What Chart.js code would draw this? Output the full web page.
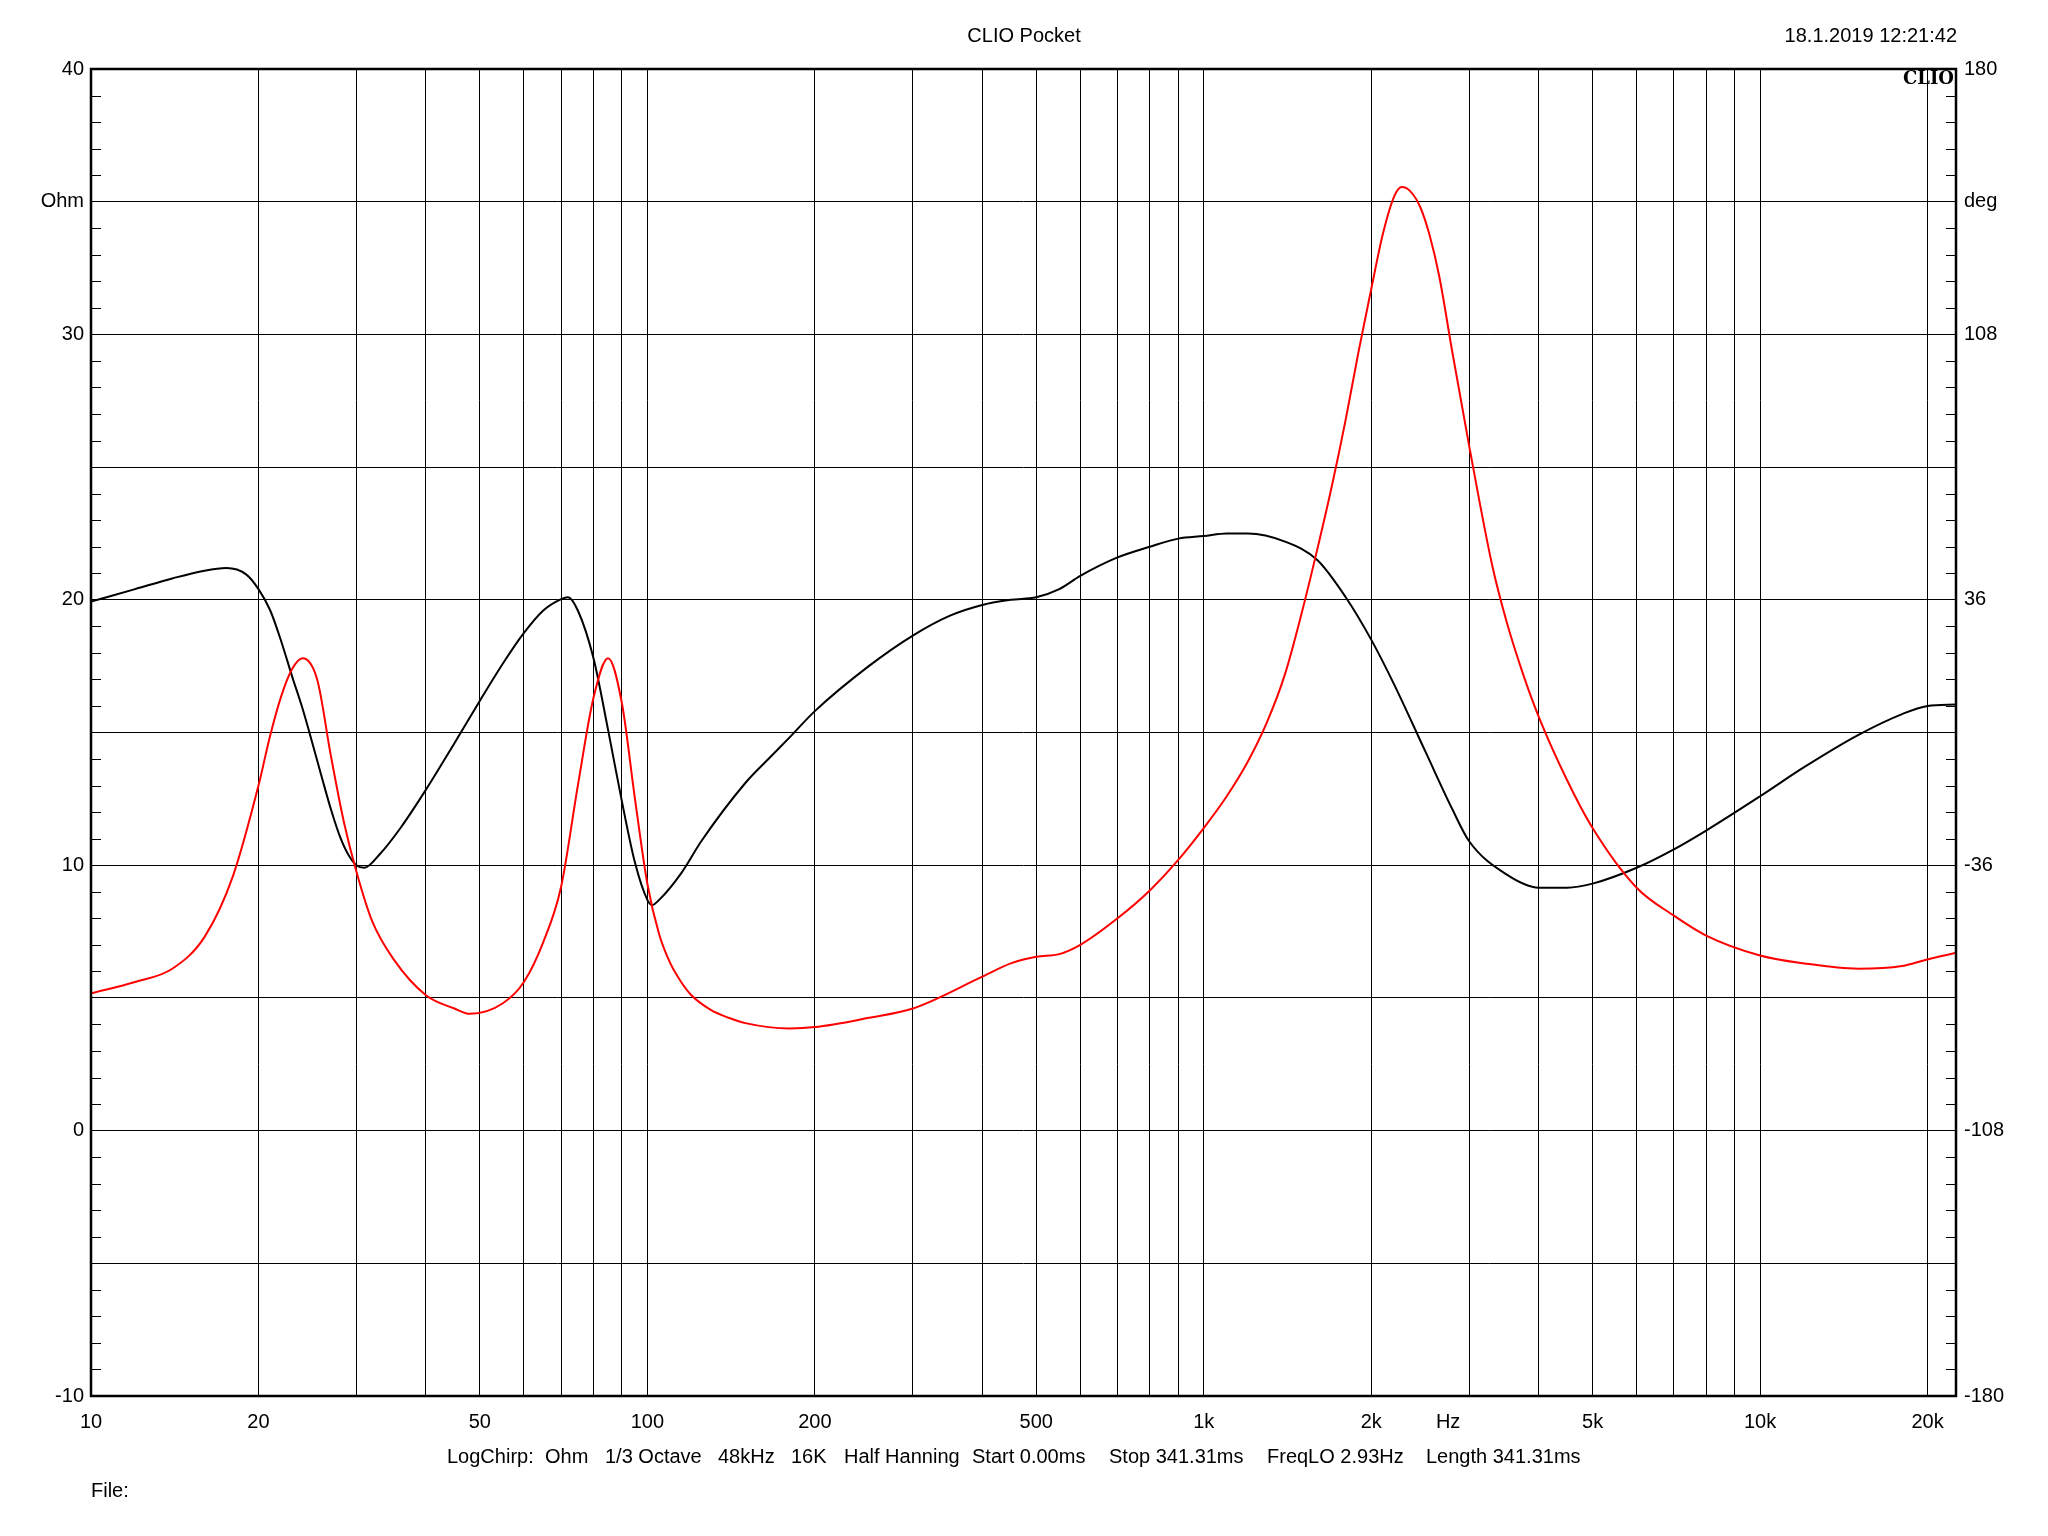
<!DOCTYPE html>
<html>
  <head>
    <meta charset="utf-8">
    <style type="text/css">
      body { margin: 0; background: #ffffff; }
      .chart-container { width: 2048px; height: 1536px; }
    </style>
  </head>
  <body>
    <script src="https://cdn.jsdelivr.net/npm/chart.js@4.4.1/dist/chart.umd.min.js"></script>

    <div class="chart-container">
      <canvas id="myChart" width="2048" height="1536"></canvas>
    </div>

    <script>
      /* datas : impedance (Ohm, left axis) */
      const freqZ = [10, 12, 14, 16, 18, 20, 21, 22, 23, 24, 25.5, 27, 28.5, 30, 32, 35, 40, 45, 48, 55, 60, 65, 70, 75, 80, 85, 90, 95, 100, 105, 110, 115, 120, 130, 140, 150, 180, 200, 250, 300, 400, 450, 500, 550, 600, 700, 800, 900, 1000, 1100, 1200, 1300, 1400, 1500, 1600, 1700, 1800, 1900, 2000, 2100, 2200, 2270, 2350, 2450, 2550, 2650, 2800, 3000, 3300, 3500, 3750, 4000, 4500, 5000, 6000, 7000, 8000, 10000, 12000, 15000, 18000, 20000, 22500];
      const impedance = [5.17, 5.6, 6.1, 7.3, 9.6, 13.0, 14.9, 16.4, 17.4, 17.8, 17.0, 14.1, 11.6, 9.75, 7.9, 6.45, 5.1, 4.6, 4.4, 4.8, 5.6, 7.1, 9.2, 13.0, 16.3, 17.8, 16.1, 12.5, 9.3, 7.4, 6.3, 5.6, 5.1, 4.55, 4.25, 4.05, 3.85, 3.9, 4.25, 4.6, 5.8, 6.3, 6.55, 6.65, 7.0, 8.0, 9.05, 10.2, 11.4, 12.6, 13.9, 15.4, 17.2, 19.5, 21.9, 24.3, 26.8, 29.4, 31.7, 33.8, 35.2, 35.55, 35.4, 34.8, 33.7, 32.2, 29.3, 25.8, 21.3, 19.2, 17.2, 15.6, 13.2, 11.4, 9.15, 8.1, 7.35, 6.6, 6.3, 6.1, 6.2, 6.45, 6.7];

      /* datas : phase (deg, right axis) */
      const freqPh = [10, 12, 14, 16, 17.5, 19, 20, 21, 22, 23, 24, 25, 26, 27, 28, 29, 30, 31, 33, 36, 40, 45, 50, 55, 60, 65, 70, 72, 75, 80, 85, 90, 95, 100, 102, 105, 115, 125, 150, 165, 180, 200, 250, 300, 350, 400, 450, 500, 550, 600, 700, 800, 900, 1000, 1100, 1200, 1400, 1600, 1800, 2000, 2200, 2500, 2800, 3000, 3500, 4000, 4500, 5000, 6000, 7000, 8000, 10000, 12000, 15000, 18000, 20000, 22500];
      const phase = [35.5, 38.9, 41.8, 43.9, 44.6, 42.9, 38.9, 33.1, 24.5, 15.1, 6.5, -2.9, -12.2, -20.9, -28.1, -33.1, -36, -36.7, -33.1, -25.9, -15.5, -2.9, 8.6, 18.7, 27, 33.1, 36.2, 36.7, 33.1, 20.2, 0.7, -18.7, -35.3, -45.4, -46.8, -45.4, -38.2, -29.5, -13.7, -7.2, -1.4, 5.8, 18, 26.3, 31.7, 34.6, 36, 36.7, 38.9, 42.5, 47.5, 50.4, 52.6, 53.3, 54, 54, 51.8, 46.8, 36.7, 25.2, 13, -5, -20.9, -29.5, -38.5, -42.1, -42.1, -41, -36.7, -31.7, -26.6, -17.3, -9.4, -0.7, 5, 7.2, 7.6];

      /* axis ticks */
      const freqGrid = [20, 30, 40, 50, 60, 70, 80, 90, 100, 200, 300, 400, 500, 600, 700, 800, 900, 1000, 2000, 3000, 4000, 5000, 6000, 7000, 8000, 9000, 10000, 20000];
      const freqLabels = { 10: '10', 20: '20', 50: '50', 100: '100', 200: '200', 500: '500', 1000: '1k', 2000: '2k', 5000: '5k', 10000: '10k', 20000: '20k' };
      const ohmLabels = { 40: '40', 35: 'Ohm', 30: '30', 20: '20', 10: '10', 0: '0', '-10': '-10' };
      const degTicks = [-180, -108, -36, 36, 108, 144, 180];
      const degLabels = { 180: '180', 144: 'deg', 108: '108', 36: '36', '-36': '-36', '-108': '-108', '-180': '-180' };
      const infoText = ['LogChirp:', 'Ohm', '1/3 Octave', '48kHz', '16K', 'Half Hanning', 'Start 0.00ms', 'Stop 341.31ms', 'FreqLO 2.93Hz', 'Length 341.31ms'];
      const infoX = [447, 545, 605, 718, 791, 844, 972, 1109, 1267, 1426];

      const FAMILY = '"Liberation Sans", Arial, sans-serif';
      const FONT = '20px ' + FAMILY;

      // texts, frame and the small inner ticks, drawn over the chart
      const decoPlugin = {
        id: 'deco',
        afterDraw(chart) {
          const ctx = chart.ctx;
          const a = chart.chartArea;
          const y = chart.scales.y;
          ctx.save();
          ctx.strokeStyle = '#000';
          ctx.lineWidth = 1;
          for (let v = -9; v < 40; v++) {
            if (v % 5 === 0) continue;
            const py = Math.round(y.getPixelForValue(v)) + 0.5;
            ctx.beginPath();
            ctx.moveTo(a.left, py); ctx.lineTo(a.left + 10, py);
            ctx.moveTo(a.right - 10, py); ctx.lineTo(a.right, py);
            ctx.stroke();
          }
          ctx.lineWidth = 2.5;
          ctx.strokeRect(a.left, a.top, a.right - a.left, a.bottom - a.top);

          ctx.fillStyle = '#000';
          ctx.font = FONT;
          ctx.textBaseline = 'middle';
          ctx.textAlign = 'center';
          ctx.fillText('CLIO Pocket', 1024, 36);
          ctx.fillText('Hz', chart.scales.x.getPixelForValue(2750), 1422);
          ctx.textAlign = 'right';
          ctx.fillText('18.1.2019 12:21:42', 1957, 36);
          ctx.textAlign = 'left';
          ctx.fillText('File:', 91, 1491);
          infoText.forEach((t, i) => ctx.fillText(t, infoX[i], 1457));

          ctx.font = 'bold 18px "DejaVu Serif", serif';
          ctx.textAlign = 'right';
          ctx.fillText('CLIO', 1954, 79);
          ctx.restore();
        }
      };

      const myChart = new Chart('myChart', {
        type: 'scatter',
        data: {
          datasets: [{
            label: 'Impedance',
            data: freqZ.map((f, i) => ({ x: f, y: impedance[i] })),
            yAxisID: 'y',
            showLine: true,
            borderColor: '#ff0000',
            borderWidth: 2,
            pointRadius: 0,
            cubicInterpolationMode: 'monotone'
          },
          {
            label: 'Phase',
            data: freqPh.map((f, i) => ({ x: f, y: phase[i] })),
            yAxisID: 'y2',
            showLine: true,
            borderColor: '#000000',
            borderWidth: 2,
            pointRadius: 0,
            cubicInterpolationMode: 'monotone'
          }]
        },
        options: {
          responsive: false,
          animation: false,
          devicePixelRatio: 1,
          layout: { padding: { top: 69, left: 0, right: 0, bottom: 0 } },
          plugins: {
            legend: { display: false },
            tooltip: { enabled: false }
          },
          scales: {
            x: {
              type: 'logarithmic',
              min: 10,
              max: 22500,
              afterBuildTicks: (scale) => {
                scale.ticks = [10].concat(freqGrid).map(v => ({ value: v }));
              },
              afterFit: (scale) => { scale.height = 140; },
              grid: {
                color: (c) => c.tick && c.tick.value === 10 ? 'rgba(0,0,0,0)' : '#000',
                lineWidth: 1,
                drawTicks: false
              },
              border: { display: false },
              ticks: {
                autoSkip: false,
                maxRotation: 0,
                padding: 14,
                color: '#000',
                font: { family: FAMILY, size: 20 },
                callback: (value) => freqLabels[value] || ''
              }
            },
            y: {
              position: 'left',
              min: -10,
              max: 40,
              afterBuildTicks: (scale) => {
                const t = [];
                for (let v = -10; v <= 40; v += 5) t.push({ value: v });
                scale.ticks = t;
              },
              afterFit: (scale) => { scale.width = 91; },
              grid: {
                color: '#000',
                lineWidth: 1,
                drawTicks: false
              },
              border: { display: false },
              ticks: {
                autoSkip: false,
                padding: 7,
                color: '#000',
                font: { family: FAMILY, size: 20 },
                callback: (value) => ohmLabels[value] || ''
              }
            },
            y2: {
              position: 'right',
              min: -180,
              max: 180,
              afterBuildTicks: (scale) => {
                scale.ticks = degTicks.map(v => ({ value: v }));
              },
              afterFit: (scale) => { scale.width = 92; },
              grid: { display: false, drawTicks: false },
              border: { display: false },
              ticks: {
                autoSkip: false,
                padding: 8,
                color: '#000',
                font: { family: FAMILY, size: 20 },
                callback: (value) => degLabels[value] || ''
              }
            }
          }
        },
        plugins: [decoPlugin]
      });
    </script>
  </body>
</html>
